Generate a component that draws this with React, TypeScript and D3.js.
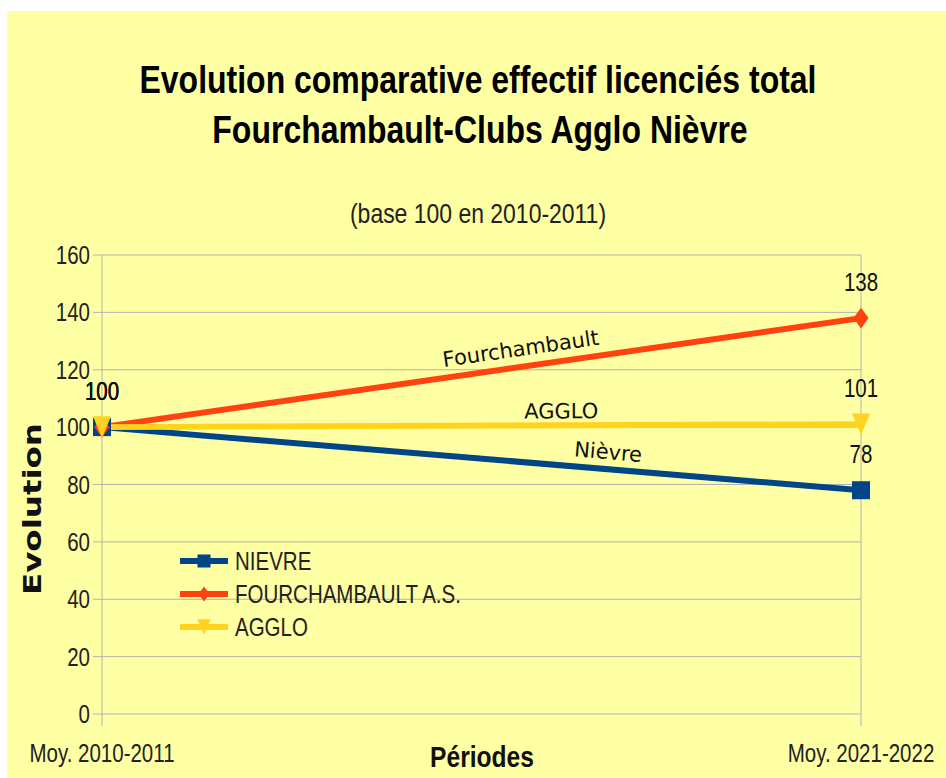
import React from 'react'
import { scaleLinear, scalePoint, line } from 'd3'

const periods = ['Moy. 2010-2011', 'Moy. 2021-2022']
const nievre = [100, 78]
const fourchambault = [100, 138]
const agglo = [100, 101]
const yTicks = [0, 20, 40, 60, 80, 100, 120, 140, 160]

const series = [
  { name: 'NIEVRE', tag: 'Nièvre', values: nievre, color: '#004586', marker: 'square' },
  { name: 'FOURCHAMBAULT A.S.', tag: 'Fourchambault', values: fourchambault, color: '#ff420e', marker: 'diamond' },
  { name: 'AGGLO', tag: 'AGGLO', values: agglo, color: '#ffd320', marker: 'triangle' },
]

const W = 946
const H = 778
const arial = '"Liberation Sans", Arial, sans-serif'
const dejavu = '"DejaVu Sans", sans-serif'

// where the line labels sit (fraction along the line, offset above it)
const tagPos: Record<string, { t: number; dy: number }> = {
  'Nièvre': { t: 0.665, dy: -10 },
  'Fourchambault': { t: 0.555, dy: -11 },
  'AGGLO': { t: 0.605, dy: -7 },
}

// Liberation Sans squeezed to mimic a narrow face
function NText({ x, y, size, anchor = 'start', bold = false, fill = '#222', children }:
  { x: number; y: number; size: number; anchor?: string; bold?: boolean; fill?: string; children: React.ReactNode }) {
  return (
    <text transform={`translate(${x},${y}) scale(0.82,1)`} textAnchor={anchor} fontFamily={arial}
      fontWeight={bold ? 'bold' : 'normal'} fontSize={size} fill={fill}>{children}</text>
  )
}

function Marker({ kind, x, y, color, s }: { kind: string; x: number; y: number; color: string; s: number }) {
  if (kind === 'square') {
    return <rect x={x - s / 2} y={y - s / 2} width={s} height={s} fill={color} />
  }
  if (kind === 'diamond') {
    const w = s * 0.42
    const h = s * 0.58
    return <path d={`M${x},${y - h} L${x + w},${y} L${x},${y + h} L${x - w},${y} Z`} fill={color} />
  }
  const w = s * 0.5
  const h = s * 0.6
  return <path d={`M${x - w},${y - h} L${x + w},${y - h} L${x},${y + h} Z`} fill={color} />
}

export default function App() {
  const left = 102
  const right = 861
  const top = 255
  const bottom = 714

  const x = scalePoint<string>().domain(periods).range([left, right]).padding(0)
  const y = scaleLinear().domain([0, 160]).range([bottom, top])

  const path = line<number>()
    .x((_, i) => x(periods[i]) as number)
    .y(d => y(d))

  return (
    <svg width={W} height={H} style={{ position: 'absolute', left: 0, top: 0 }}>
      <rect x={0} y={0} width={W} height={H} fill="#ffffff" />
      <rect x={7} y={11} width={W - 7} height={H - 11} fill="#ffffa3" />

      <NText x={478} y={93} size={39} anchor="middle" bold fill="#000">
        Evolution comparative effectif licenciés total
      </NText>
      <NText x={480} y={143} size={39} anchor="middle" bold fill="#000">
        Fourchambault-Clubs Agglo Nièvre
      </NText>
      <NText x={478} y={223} size={28} anchor="middle">
        (base 100 en 2010-2011)
      </NText>

      {/* grid */}
      {yTicks.map(t => (
        <g key={t}>
          <line x1={left - 9} x2={right} y1={y(t)} y2={y(t)} stroke="#b3b3b3" strokeWidth={1} />
          <NText x={90} y={y(t) + 9} size={25} anchor="end">{t}</NText>
        </g>
      ))}
      {periods.map(p => (
        <g key={p}>
          <line x1={x(p)} x2={x(p)} y1={top} y2={bottom + 12} stroke="#b3b3b3" strokeWidth={1} />
          <NText x={x(p) as number} y={762} size={25} anchor="middle">{p}</NText>
        </g>
      ))}

      <NText x={482} y={767} size={30} anchor="middle" bold fill="#111">Périodes</NText>
      <text transform="translate(41,509) rotate(-90)" textAnchor="middle" fontFamily={dejavu}
        fontWeight="bold" fontSize={25} textLength={172} lengthAdjust="spacingAndGlyphs" fill="#111">Evolution</text>

      {/* lines */}
      {series.map(s => (
        <path key={s.name} d={path(s.values) as string} fill="none" stroke={s.color} strokeWidth={6} />
      ))}
      {series.map(s => s.values.map((v, i) => (
        <Marker key={s.name + i} kind={s.marker} x={x(periods[i]) as number} y={y(v)} color={s.color} s={18} />
      )))}

      {/* value labels */}
      {series.map(s => s.values.map((v, i) => (
        <NText key={'l' + s.name + i} x={x(periods[i]) as number} y={y(v) - 27} size={25}
          anchor="middle" fill="#111">{v}</NText>
      )))}

      {/* line tags */}
      {series.map(s => {
        const x0 = x(periods[0]) as number
        const x1 = x(periods[1]) as number
        const y0 = y(s.values[0])
        const y1 = y(s.values[1])
        const p = tagPos[s.tag]
        const px = x0 + (x1 - x0) * p.t
        const py = y0 + (y1 - y0) * p.t
        const ang = (Math.atan2(y1 - y0, x1 - x0) * 180) / Math.PI
        return (
          <text key={'t' + s.name} transform={`translate(${px},${py}) rotate(${ang}) translate(0,${p.dy})`}
            textAnchor="middle" fontFamily={dejavu} fontSize={21} fill="#111">{s.tag}</text>
        )
      })}

      {/* legend */}
      {series.map((s, i) => {
        const ly = 561 + i * 33
        return (
          <g key={'lg' + s.name}>
            <line x1={180} x2={228} y1={ly} y2={ly} stroke={s.color} strokeWidth={6} />
            <Marker kind={s.marker} x={204} y={ly} color={s.color} s={13} />
            <NText x={235} y={ly + 9} size={25}>{s.name}</NText>
          </g>
        )
      })}
    </svg>
  )
}
